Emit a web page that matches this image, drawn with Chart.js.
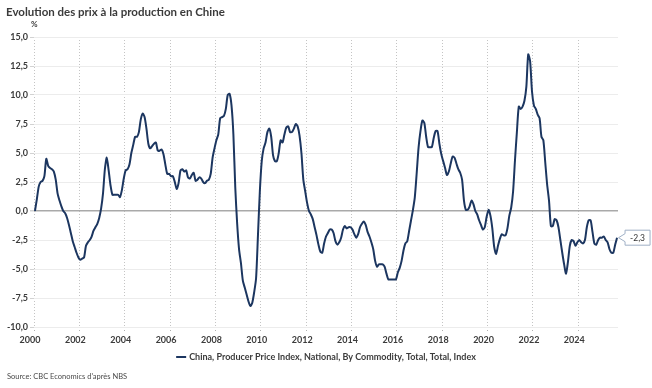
<!DOCTYPE html>
<html>
<head>
<meta charset="utf-8">
<script src="https://cdn.jsdelivr.net/npm/chart.js@4.4.1/dist/chart.umd.min.js"></script>
<style>
  html, body { margin: 0; padding: 0; background: #fff; }
  #wrap { position: relative; width: 652px; height: 388px; }
</style>
</head>
<body>
<div id="wrap"><canvas id="ppiChart" width="652" height="388"></canvas></div>
<script>
// ── Data: China PPI, % y/y, monthly ──────────────────────────────────────
const startYear = 2000;
const ppi2000 = [0.0, 1.0, 2.1, 2.5, 2.6, 3.0, 4.5, 3.9, 3.7, 3.6, 3.4, 2.7];
const ppi2001 = [1.5, 0.9, 0.4, 0.0, -0.2, -0.6, -1.2, -1.9, -2.6, -3.1, -3.6, -4.0];
const ppi2002 = [-4.2, -4.1, -4.0, -3.0, -2.7, -2.5, -2.2, -1.7, -1.4, -1.1, -0.6, 0.2];
const ppi2003 = [1.5, 3.6, 4.6, 3.5, 2.2, 1.4, 1.4, 1.4, 1.4, 1.2, 1.8, 2.8];
const ppi2004 = [3.5, 3.6, 4.0, 5.0, 5.7, 6.4, 6.4, 6.8, 7.9, 8.4, 8.1, 7.1];
const ppi2005 = [5.8, 5.4, 5.6, 5.8, 5.9, 5.2, 5.2, 5.3, 4.9, 4.0, 3.2, 3.2];
const ppi2006 = [3.0, 3.0, 2.5, 1.9, 2.4, 3.5, 3.6, 3.4, 3.5, 2.9, 2.8, 3.1];
const ppi2007 = [3.3, 2.6, 2.7, 2.9, 2.8, 2.5, 2.4, 2.6, 2.7, 3.2, 4.6, 5.4];
const ppi2008 = [6.1, 6.6, 8.0, 8.1, 8.2, 8.8, 10.0, 10.1, 9.1, 6.6, 2.0, -1.1];
const ppi2009 = [-3.3, -4.5, -6.0, -6.6, -7.2, -7.8, -8.2, -7.9, -7.0, -5.8, -2.1, 1.7];
const ppi2010 = [4.3, 5.4, 5.9, 6.8, 7.1, 6.4, 4.8, 4.3, 4.3, 5.0, 6.1, 5.9];
const ppi2011 = [6.6, 7.2, 7.3, 6.8, 6.8, 7.1, 7.5, 7.3, 6.5, 5.0, 2.7, 1.7];
const ppi2012 = [0.7, 0.0, -0.3, -0.7, -1.4, -2.1, -2.9, -3.5, -3.6, -2.8, -2.2, -1.9];
const ppi2013 = [-1.6, -1.6, -1.9, -2.6, -2.9, -2.7, -2.3, -1.6, -1.3, -1.5, -1.4, -1.4];
const ppi2014 = [-1.6, -2.0, -2.3, -2.0, -1.4, -1.1, -0.9, -1.2, -1.8, -2.2, -2.7, -3.3];
const ppi2015 = [-4.3, -4.8, -4.6, -4.6, -4.6, -4.8, -5.4, -5.9, -5.9, -5.9, -5.9, -5.9];
const ppi2016 = [-5.3, -4.9, -4.3, -3.4, -2.8, -2.6, -1.7, -0.8, 0.1, 1.2, 3.3, 5.5];
const ppi2017 = [6.9, 7.8, 7.6, 6.4, 5.5, 5.5, 5.5, 6.3, 6.9, 6.9, 5.8, 4.9];
const ppi2018 = [4.3, 3.7, 3.1, 3.4, 4.1, 4.7, 4.6, 4.1, 3.6, 3.3, 2.7, 0.9];
const ppi2019 = [0.1, 0.1, 0.4, 0.9, 0.6, 0.0, -0.3, -0.8, -1.2, -1.6, -1.4, -0.5];
const ppi2020 = [0.1, -0.4, -1.5, -3.1, -3.7, -3.0, -2.4, -2.0, -2.1, -2.1, -1.5, -0.4];
const ppi2021 = [0.3, 1.7, 4.4, 6.8, 9.0, 8.8, 9.0, 9.5, 10.7, 13.5, 12.9, 10.3];
const ppi2022 = [9.1, 8.8, 8.3, 8.0, 6.4, 6.1, 4.2, 2.3, 0.9, -1.3, -1.3, -0.7];
const ppi2023 = [-0.8, -1.4, -2.5, -3.6, -4.6, -5.4, -4.4, -3.0, -2.5, -2.6, -3.0, -2.7];
const ppi2024 = [-2.5, -2.7, -2.8, -2.5, -1.4, -0.8, -0.8, -1.8, -2.8, -2.9, -2.5, -2.3];
const ppi2025 = [-2.3, -2.2, -2.5, -2.7, -3.3, -3.6, -3.6, -2.9, -2.3];

const xTicks = [2000, 2002, 2004, 2006, 2008, 2010, 2012, 2014, 2016, 2018, 2020, 2022, 2024];
const yTicks = [-10, -7.5, -5, -2.5, 0, 2.5, 5, 7.5, 10, 12.5, 15];

const titleText  = 'Evolution des prix à la production en Chine';
const unitText   = '%';
const seriesName = 'China, Producer Price Index, National, By Commodity, Total, Total, Index';
const sourceText = "Source: CBC Economics d'après NBS";

const ppiValues = [].concat(
    ppi2000, ppi2001, ppi2002, ppi2003, ppi2004, ppi2005, ppi2006, ppi2007, ppi2008,
    ppi2009, ppi2010, ppi2011, ppi2012, ppi2013, ppi2014, ppi2015, ppi2016, ppi2017,
    ppi2018, ppi2019, ppi2020, ppi2021, ppi2022, ppi2023, ppi2024, ppi2025
);
// mid-month positions on a year axis
const ppiPoints = ppiValues.map((v, i) => ({ x: startYear + (i + 0.5) / 12, y: v }));

// ── Styling ──────────────────────────────────────────────────────────────
const lineColor  = '#1c3660';
const textColor  = '#3b3b3b';
const narrowFont = "'Liberation Sans Narrow', 'Arial Narrow', Lato, sans-serif";
const mainFont   = "Lato, 'Open Sans', sans-serif";
const fmt = v => v.toFixed(1).replace('.', ',');

// ── Title, legend, source and end label ──────────────────────────────────
const decorations = {
    id: 'decorations',
    afterDraw(chart) {
        const { ctx, chartArea } = chart;
        ctx.save();
        ctx.textBaseline = 'middle';

        ctx.fillStyle = textColor;
        ctx.font = `bold 11.5px ${mainFont}`;
        ctx.fillText(titleText, 6, 12);

        ctx.font = `bold 8px ${mainFont}`;
        ctx.fillText(unitText, 31, 24);

        // legend
        ctx.font = `bold 9px ${narrowFont}`;
        const tw = ctx.measureText(seriesName).width;
        const total = 10 + 3 + tw;
        const lx = (chartArea.left + chartArea.right) / 2 - total / 2;
        const ly = 357;
        ctx.strokeStyle = lineColor;
        ctx.lineWidth = 2;
        ctx.beginPath();
        ctx.moveTo(lx, ly);
        ctx.lineTo(lx + 10, ly);
        ctx.stroke();
        ctx.fillStyle = textColor;
        ctx.fillText(seriesName, lx + 13, ly);

        // source
        ctx.font = `7.5px ${mainFont}`;
        ctx.fillStyle = '#4a4a4a';
        ctx.fillText(sourceText, 7, 377);

        // last value callout
        const meta = chart.getDatasetMeta(0);
        const last = meta.data[meta.data.length - 1];
        const tipX = last.x + 1.5, cy = last.y;
        const bx = tipX + 6.5, bw = 25, bh = 15;
        ctx.beginPath();
        ctx.moveTo(tipX, cy);
        ctx.lineTo(bx, cy - 4);
        ctx.lineTo(bx, cy - bh / 2);
        ctx.lineTo(bx + bw, cy - bh / 2);
        ctx.lineTo(bx + bw, cy + bh / 2);
        ctx.lineTo(bx, cy + bh / 2);
        ctx.lineTo(bx, cy + 4);
        ctx.closePath();
        ctx.fillStyle = '#fff';
        ctx.fill();
        ctx.strokeStyle = '#9fb0c6';
        ctx.lineWidth = 1;
        ctx.stroke();
        ctx.fillStyle = '#333';
        ctx.font = `8.5px ${mainFont}`;
        ctx.textAlign = 'center';
        ctx.fillText(fmt(ppiValues[ppiValues.length - 1]), bx + bw / 2, cy + 0.5);

        ctx.restore();
    }
};

// ── Chart ────────────────────────────────────────────────────────────────
new Chart(document.getElementById('ppiChart'), {
    type: 'line',
    data: {
        datasets: [{
            label: seriesName,
            data: ppiPoints,
            borderColor: lineColor,
            borderWidth: 2,
            pointRadius: 0,
            tension: 0.25,
            fill: false
        }]
    },
    options: {
        responsive: false,
        animation: false,
        layout: { padding: { top: 37, right: 34, bottom: 37, left: 0 } },
        plugins: {
            legend: { display: false },
            tooltip: { enabled: false }
        },
        scales: {
            x: {
                type: 'linear',
                min: 2000,
                max: 2025.75,
                afterBuildTicks: s => { s.ticks = xTicks.map(v => ({ value: v })); },
                afterFit: s => { s.height = 24; },
                grid: {
                    color: '#c4c4c4',
                    lineWidth: 1,
                    tickLength: 6,
                    tickColor: '#b0b0b0',
                    tickBorderDash: [1, 2]
                },
                border: { display: false, dash: [1, 2] },
                ticks: {
                    color: textColor,
                    font: { family: narrowFont, size: 9, weight: 'bold' },
                    padding: 2,
                    labelOffset: -4,
                    maxRotation: 0,
                    callback: v => String(v)
                }
            },
            y: {
                min: -10,
                max: 15,
                afterBuildTicks: s => { s.ticks = yTicks.map(v => ({ value: v })); },
                afterFit: s => { s.width = 34; },
                grid: {
                    color: c => c.tick && c.tick.value === 0 ? '#a9a9a9' : '#ececec',
                    lineWidth: c => c.tick && c.tick.value === 0 ? 1.5 : 1,
                    tickLength: 4,
                    tickColor: '#d2d2d2'
                },
                border: { display: false },
                ticks: {
                    color: textColor,
                    font: { family: mainFont, size: 9, weight: 'bold' },
                    padding: 2,
                    callback: v => fmt(v)
                }
            }
        }
    },
    plugins: [decorations]
});
</script>
</body>
</html>
